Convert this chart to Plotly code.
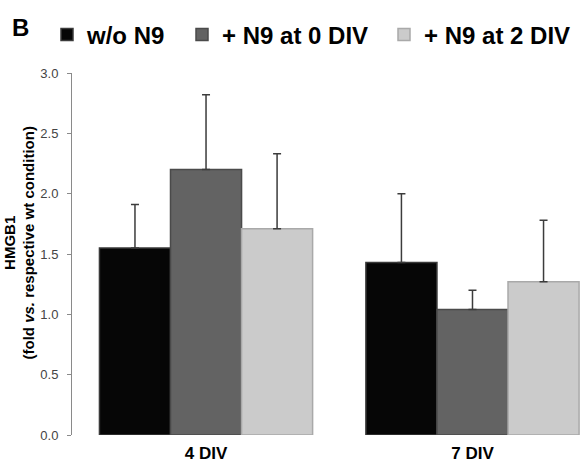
import plotly.graph_objects as go

categories = ["4 DIV", "7 DIV"]
series_names = ["w/o N9", "+ N9 at 0 DIV", "+ N9 at 2 DIV"]
wo_n9 = [1.55, 1.43]
n9_0div = [2.20, 1.04]
n9_2div = [1.71, 1.27]
wo_n9_err = [0.36, 0.57]
n9_0div_err = [0.62, 0.16]
n9_2div_err = [0.62, 0.51]
y_ticks = [0.0, 0.5, 1.0, 1.5, 2.0, 2.5, 3.0]

fills = ["#060606", "#636363", "#cbcbcb"]
edges = ["#3a3a3a", "#4a4a4a", "#a9a9a9"]
values = [wo_n9, n9_0div, n9_2div]
errs = [wo_n9_err, n9_0div_err, n9_2div_err]
legend_ids = ["legend", "legend2", "legend3"]

font_family = "Liberation Sans, Arial, sans-serif"

fig = go.Figure()
for name, vals, err, fc, ec, lg in zip(series_names, values, errs, fills, edges, legend_ids):
    fig.add_trace(go.Bar(
        x=categories, y=vals, name=name,
        marker=dict(color=fc, line=dict(color=ec, width=1.5)),
        error_y=dict(type="data", array=err, arrayminus=[0] * len(err), symmetric=False,
                     color="#3c3c3c", thickness=1.5, width=4),
        legend=lg,
    ))

W, H = 582, 463
ml, mr, mt, mb = 72, 0, 73, 28
pw = W - ml - mr
ph = H - mt - mb

def px_x(px):
    return (px - ml) / pw

def px_y(py):
    return 1 + (mt - py) / ph

leg_font = dict(family=font_family, size=24, color="#000000", weight="bold")
legend_common = dict(orientation="h", xanchor="left", yanchor="middle", font=leg_font,
                     bgcolor="rgba(0,0,0,0)", borderwidth=0)

fig.update_layout(
    width=W, height=H,
    margin=dict(l=ml, r=mr, t=mt, b=mb, pad=0, autoexpand=False),
    paper_bgcolor="white", plot_bgcolor="white",
    barmode="group", bargap=0.2, bargroupgap=0,
    showlegend=True,
    legend=dict(x=px_x(47), y=px_y(35), **legend_common),
    legend2=dict(x=px_x(182), y=px_y(35), **legend_common),
    legend3=dict(x=px_x(384), y=px_y(35), **legend_common),
    xaxis=dict(
        type="category", range=[-0.503, 1.411],
        showline=False, showgrid=False, zeroline=False, ticks="",
        tickfont=dict(family=font_family, size=17, color="#000000", weight="bold"),
        ticklabelstandoff=6,
    ),
    yaxis=dict(
        range=[0, 3], tickvals=y_ticks, tickformat=".1f",
        showline=True, linecolor="#8a8a8a", linewidth=1,
        ticks="outside", ticklen=4, tickcolor="#8a8a8a", tickwidth=1,
        showgrid=False, zeroline=False,
        tickfont=dict(family=font_family, size=13, color="#444444"),
        ticklabelstandoff=6,
    ),
    yaxis2=dict(
        overlaying="y", anchor="x", side="left", range=[0, 3], tickvals=y_ticks,
        showline=False, ticks="inside", ticklen=5, tickcolor="#8a8a8a", tickwidth=1,
        showticklabels=False, showgrid=False, zeroline=False,
    ),
    annotations=[
        dict(text="B", xref="paper", yref="paper", x=px_x(20), y=px_y(27.5),
             xanchor="center", yanchor="middle", showarrow=False,
             font=dict(family=font_family, size=24, color="#000000", weight="bold")),
        dict(text="HMGB1<br>(fold <i>vs.</i> respective wt condition)",
             xref="paper", yref="paper", x=px_x(19), y=px_y(243.5),
             xanchor="center", yanchor="middle", textangle=-90, showarrow=False,
             font=dict(family=font_family, size=15, color="#000000", weight="bold")),
    ],
)

fig.write_html("out.html", config={"displayModeBar": False},
               post_script="document.body.style.margin='0';")
